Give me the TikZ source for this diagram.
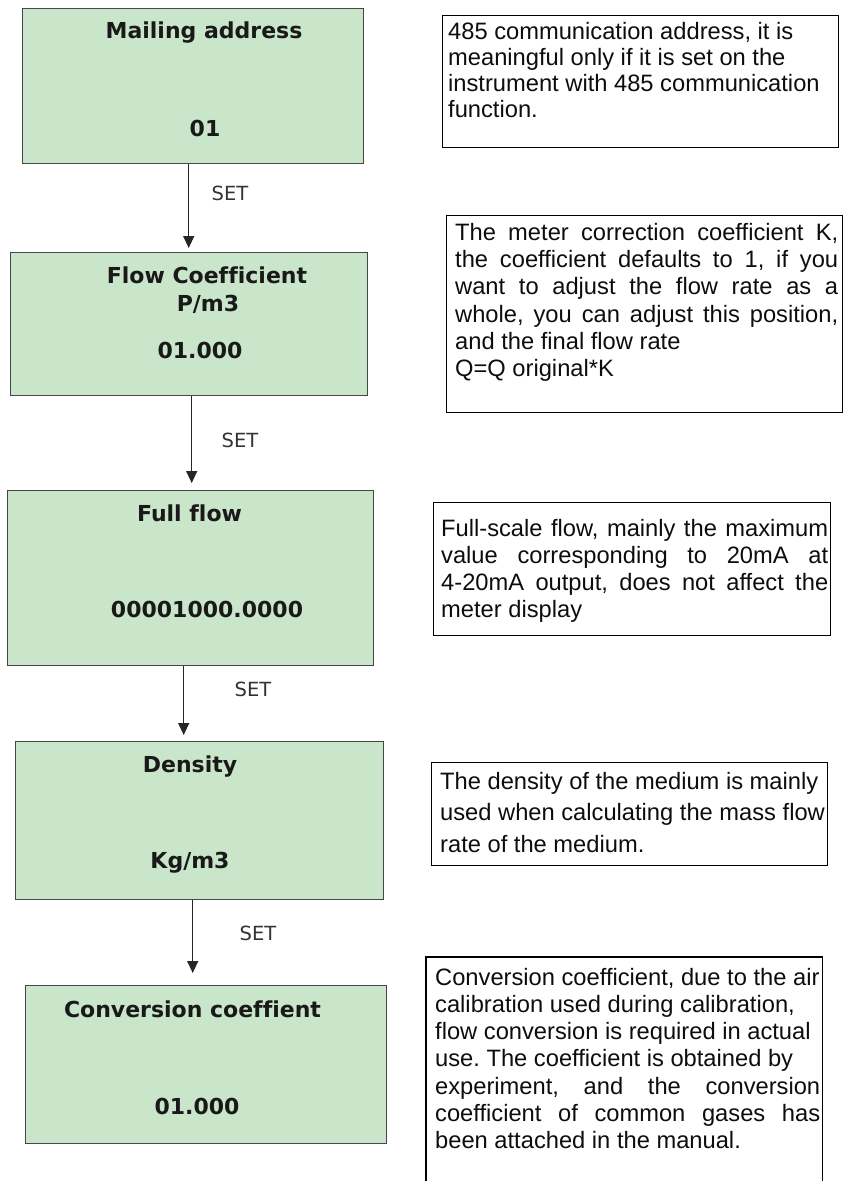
\documentclass[tikz,border=0pt]{standalone}
\usepackage{fontspec}
\setmainfont{Liberation Sans}[Ligatures=NoCommon]
\newfontfamily\boxfont{DejaVu Sans}[Ligatures=NoCommon]
\usetikzlibrary{arrows.meta}
\definecolor{boxgreen}{RGB}{201,229,202}
\definecolor{boxedge}{RGB}{70,70,70}
\newcommand\jline[2]{\makebox[#1][s]{#2}}
\frenchspacing
\begin{document}
\begin{tikzpicture}[x=1pt,y=-1pt,
  greenbox/.style={draw=boxedge, line width=1.4pt, fill=boxgreen, anchor=north west, inner sep=0pt},
  lbl/.style={font=\boxfont\bfseries\fontsize{22}{26}\selectfont, text=black!90, anchor=base, inner sep=0pt},
  setlbl/.style={font=\boxfont\fontsize{19.5}{23}\selectfont, text=black!80, inner sep=0pt},
  frame/.style={draw=black, line width=1.2pt, anchor=north west, inner sep=0pt},
  openframe/.style={anchor=north west, inner sep=0pt},
  desc/.style={anchor=north west, inner sep=0pt, align=left, text=black!95},
  flow/.style={draw=black!85, line width=1.3pt, -{Triangle[length=12pt,width=11pt]}}
]
\useasboundingbox (0,0) rectangle (846,1181);

% green boxes
\node[greenbox, minimum width=341pt, minimum height=155pt] (b1) at (22,8) {};
\node[greenbox, minimum width=357pt, minimum height=143pt] (b2) at (10,252) {};
\node[greenbox, minimum width=366pt, minimum height=175pt] (b3) at (7,490) {};
\node[greenbox, minimum width=368pt, minimum height=158pt] (b4) at (15,741) {};
\node[greenbox, minimum width=361pt, minimum height=158pt] (b5) at (25,985) {};

% labels in boxes
\node[lbl] (b1t) at (204,38) {Mailing address};
\node[lbl] (b1v) at (205,136) {01};
\node[lbl] (b2t) at (207,283) {Flow Coefficient};
\node[lbl] (b2u) at (208,311) {P/m3};
\node[lbl] (b2v) at (200,358) {01.000};
\node[lbl] (b3t) at (189.5,521) {Full flow};
\node[lbl] (b3v) at (207,617) {00001000.0000};
\node[lbl] (b4t) at (190,772) {Density};
\node[lbl] (b4v) at (190,868) {Kg/m3};
\node[lbl] (b5t) at (192.5,1017) {Conversion coeffient};
\node[lbl] (b5v) at (197,1114) {01.000};

% arrows
\draw[flow, shorten >=4pt] ([xshift=-4.5pt]b1.south) -- ([xshift=-4.5pt]b1.south |- b2.north);
\draw[flow, shorten >=7pt] ([xshift=2.5pt]b2.south) -- ([xshift=2.5pt]b2.south |- b3.north);
\draw[flow, shorten >=6pt] ([xshift=-7pt]b3.south) -- ([xshift=-7pt]b3.south |- b4.north);
\draw[flow, shorten >=12pt] ([xshift=-7pt]b4.south) -- ([xshift=-7pt]b4.south |- b5.north);

\node[setlbl] (s1) at (230,193) {SET};
\node[setlbl] (s2) at (240,440) {SET};
\node[setlbl] (s3) at (253,689) {SET};
\node[setlbl] (s4) at (258,933) {SET};

% description boxes
\node[frame, minimum width=396pt, minimum height=132pt] (fA) at (442,15) {};
\node[desc, font=\fontsize{23.7}{26}\selectfont] (dA) at (448,20.8) {\strut 485 communication address, it is\\
meaningful only if it is set on the\\
instrument with 485 communication\\
function.};

\node[frame, minimum width=396pt, minimum height=197pt] (fB) at (446,215) {};
\node[desc, font=\fontsize{23.7}{27.3}\selectfont] (dB) at (455,220.9) {\strut\jline{383pt}{The meter correction coefficient K,}\\
\jline{383pt}{the coefficient defaults to 1, if you}\\
\jline{383pt}{want to adjust the flow rate as a}\\
\jline{383pt}{whole, you can adjust this position,}\\
and the final flow rate\\
Q=Q original*K};

\node[frame, minimum width=397pt, minimum height=133pt] (fC) at (433,502) {};
\node[desc, font=\fontsize{23.7}{27.2}\selectfont] (dC) at (441,517) {\strut\jline{387pt}{Full-scale flow, mainly the maximum}\\
\jline{387pt}{value corresponding to 20mA at}\\
\jline{387pt}{4-20mA output, does not affect the}\\
meter display};

\node[frame, minimum width=396pt, minimum height=103pt] (fD) at (431,762) {};
\node[desc, font=\fontsize{23.7}{31.6}\selectfont] (dD) at (440,766.9) {\strut The density of the medium is mainly\\
used when calculating the mass flow\\
rate of the medium.};

\node[openframe, minimum width=396pt, minimum height=224pt] (fE) at (426,957) {};
\draw[black, line width=1.2pt] (fE.south west) -- (fE.north west) -- (fE.north east) -- (fE.south east);
\node[desc, font=\fontsize{23.7}{27.2}\selectfont] (dE) at (435,966) {\strut Conversion coefficient, due to the air\\
calibration used during calibration,\\
flow conversion is required in actual\\
use. The coefficient is obtained by\\
\jline{385pt}{experiment, and the conversion}\\
\jline{385pt}{coefficient of common gases has}\\
been attached in the manual.};
\end{tikzpicture}
\end{document}
